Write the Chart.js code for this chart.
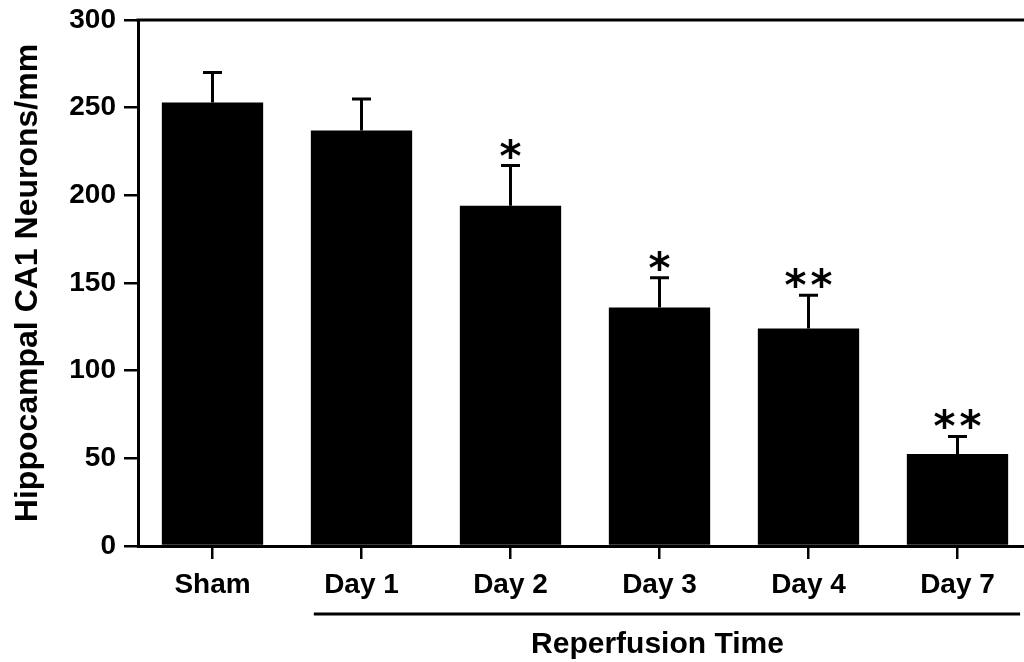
<!DOCTYPE html>
<html>
<head>
<meta charset="utf-8">
<script src="https://cdn.jsdelivr.net/npm/chart.js@4.4.1/dist/chart.umd.min.js"></script>
<style>
  html, body { margin: 0; padding: 0; background: #fff; overflow: hidden; }
  #wrap { width: 1032px; height: 662px; }
</style>
</head>
<body>
<div id="wrap"><canvas id="ca1Chart" width="1032" height="662"></canvas></div>
<script>
// values
const categories = ['Sham', 'Day 1', 'Day 2', 'Day 3', 'Day 4', 'Day 7'];
const neuronCounts = [253, 237, 194, 136, 124, 52.5];
const errorUp = [17, 18, 23, 17, 19, 10];
const sigMarks = ['', '', '*', '*', '**', '**'];
const yTicks = [0, 50, 100, 150, 200, 250, 300];

const FONT = '"Liberation Sans", Arial, Helvetica, sans-serif';

// error bars, significance stars, top frame line and the grouped x caption
const decorations = {
  id: 'decorations',
  afterDatasetsDraw(chart) {
    const ctx = chart.ctx;
    const y = chart.scales.y;
    const x = chart.scales.x;
    const area = chart.chartArea;
    const bars = chart.getDatasetMeta(0).data;

    ctx.save();
    ctx.strokeStyle = '#000';
    ctx.fillStyle = '#000';
    ctx.lineWidth = 3;

    bars.forEach((bar, i) => {
      const top = y.getPixelForValue(neuronCounts[i] + errorUp[i]);
      ctx.beginPath();
      ctx.moveTo(bar.x, bar.y);
      ctx.lineTo(bar.x, top);
      ctx.moveTo(bar.x - 9.5, top);
      ctx.lineTo(bar.x + 9.5, top);
      ctx.stroke();

      if (sigMarks[i]) {
        ctx.font = 'bold 42px "DejaVu Sans", sans-serif';
        ctx.textAlign = 'center';
        ctx.textBaseline = 'alphabetic';
        const m = ctx.measureText('*');
        const glyphMid = (m.actualBoundingBoxAscent - m.actualBoundingBoxDescent) / 2;
        const cy = top - 17;
        const stars = sigMarks[i].split('');
        const gap = 26;
        stars.forEach((s, k) => {
          const cx = bar.x + (k - (stars.length - 1) / 2) * gap;
          ctx.fillText(s, cx, cy + glyphMid);
        });
      }
    });

    // top frame line
    ctx.beginPath();
    ctx.moveTo(area.left - 1.5, area.top);
    ctx.lineTo(area.right + 10, area.top);
    ctx.stroke();

    // bracket line under the reperfusion days
    const step = x.getPixelForValue(1) - x.getPixelForValue(0);
    const x1 = x.getPixelForValue(1) - step * 0.32;
    const x2 = x.getPixelForValue(5) + step * 0.42;
    ctx.beginPath();
    ctx.moveTo(x1, 614);
    ctx.lineTo(x2, 614);
    ctx.stroke();

    ctx.font = 'bold 30px ' + FONT;
    ctx.textAlign = 'center';
    ctx.textBaseline = 'alphabetic';
    const mid = (x.getPixelForValue(1) + x.getPixelForValue(5)) / 2;
    ctx.fillText('Reperfusion Time', mid - 2, 653);
    ctx.restore();
  }
};

const ctx = document.getElementById('ca1Chart').getContext('2d');
new Chart(ctx, {
  type: 'bar',
  data: {
    labels: categories,
    datasets: [{
      data: neuronCounts,
      backgroundColor: '#000',
      borderWidth: 0,
      barPercentage: 0.68,
      categoryPercentage: 1.0
    }]
  },
  options: {
    responsive: false,
    animation: false,
    layout: { padding: { top: 20, left: 0, right: 0, bottom: 0 } },
    plugins: {
      legend: { display: false },
      tooltip: { enabled: false }
    },
    scales: {
      x: {
        offset: true,
        grid: {
          offset: false,
          drawOnChartArea: false,
          tickLength: 13,
          color: '#000',
          lineWidth: 2.5
        },
        border: { display: true, color: '#000', width: 3 },
        ticks: {
          color: '#000',
          padding: 9,
          font: { family: FONT, size: 28, weight: 'bold' }
        },
        afterFit(scale) { scale.height = 116; }
      },
      y: {
        min: 0,
        max: 300,
        afterBuildTicks(scale) { scale.ticks = yTicks.map(v => ({ value: v })); },
        grid: {
          drawOnChartArea: false,
          tickLength: 14,
          color: '#000',
          lineWidth: 2.5
        },
        border: { display: true, color: '#000', width: 3 },
        ticks: {
          color: '#000',
          padding: 8,
          font: { family: FONT, size: 28, weight: 'bold' }
        },
        title: {
          display: true,
          text: 'Hippocampal CA1 Neurons/mm',
          color: '#000',
          padding: { top: 9, bottom: 0 },
          font: { family: FONT, size: 32, weight: 'bold' }
        },
        afterFit(scale) {
          scale.width = 138;
          scale.paddingTop = 0;
          scale.paddingBottom = 0;
        }
      }
    }
  },
  plugins: [decorations]
});
</script>
</body>
</html>
